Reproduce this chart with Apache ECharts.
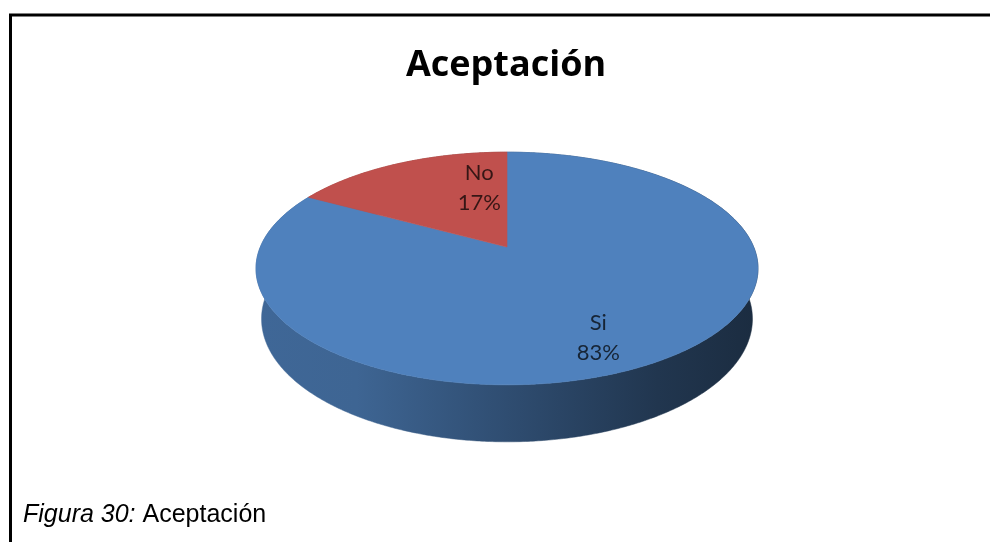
<!DOCTYPE html>
<html>
<head>
<meta charset="utf-8">
<script src="https://cdn.jsdelivr.net/npm/echarts@6/dist/echarts.min.js"></script>
<style>
  html, body { margin: 0; padding: 0; background: #ffffff; }
  #chart { width: 990px; height: 542px; }
</style>
</head>
<body>
<div id="chart"></div>
<script>
// Survey answers
const categories = ['Si', 'No'];
const values = [83, 17];
const sliceColors = ['#4F81BD', '#C0504D'];

const chartTitle = 'Aceptación';
const captionLead = 'Figura 30:';
const captionText = 'Aceptación';

// Perspective cylinder used for the 3D pie (pixels / radius units)
const pie = {
  cx: 507, cy: 247,          // screen position of the pie centre
  halfWidth: 251,            // widest half-extent of the top face
  tilt: 27.1 * Math.PI / 180,
  camDist: 4.82,             // camera distance in radius units
  depth: 0.231               // wall height in radius units
};
// small nudges applied to the inside labels
const labelShift = { Si: [8, 27], No: [41, -6] };

const sinT = Math.sin(pie.tilt), cosT = Math.cos(pie.tilt);
const zStar = -cosT / pie.camDist;
const maxSpread = Math.sqrt(1 - zStar * zStar) / (pie.camDist + cosT * zStar);
const focal = pie.halfWidth / maxSpread;

function project(x, y, z) {
  const v = z * sinT + y * cosT;
  const w = z * cosT - y * sinT;
  const f = focal / (pie.camDist + w);
  return [pie.cx + x * f, pie.cy - v * f];
}
// point on the rim, angle measured clockwise from the far side
function rim(angle, y, r) {
  return project(r * Math.sin(angle), y, r * Math.cos(angle));
}
function shade(hex, k) {
  const n = parseInt(hex.slice(1), 16);
  const r = (n >> 16) & 255, g = (n >> 8) & 255, b = n & 255;
  return 'rgb(' + Math.round(r * k) + ',' + Math.round(g * k) + ',' + Math.round(b * k) + ')';
}

const total = values.reduce((a, b) => a + b, 0);
const startAngles = [];
values.reduce((acc, v, i) => { startAngles[i] = acc; return acc + v; }, 0);

function renderSlice(params, api) {
  const i = params.dataIndex;
  const v = api.value(0);
  const name = categories[i];
  const color = sliceColors[i];
  const a0 = startAngles[i] / total * Math.PI * 2;
  const a1 = a0 + v / total * Math.PI * 2;
  const steps = Math.max(2, Math.ceil((a1 - a0) / (Math.PI / 360)));

  const topArc = [], bottomArc = [];
  for (let s = 0; s <= steps; s++) {
    const a = a0 + (a1 - a0) * s / steps;
    topArc.push(rim(a, 0, 1));
    bottomArc.push(rim(a, -pie.depth, 1));
  }
  const topFace = [project(0, 0, 0)].concat(topArc);
  const wall = topArc.concat(bottomArc.slice().reverse());

  const wallFill = {
    type: 'linear', global: true,
    x: pie.cx - pie.halfWidth, y: 0, x2: pie.cx + pie.halfWidth, y2: 0,
    colorStops: [
      { offset: 0, color: shade(color, 0.80) },
      { offset: 0.2, color: shade(color, 0.78) },
      { offset: 0.5, color: shade(color, 0.60) },
      { offset: 0.8, color: shade(color, 0.42) },
      { offset: 1, color: shade(color, 0.34) }
    ]
  };

  const mid = (a0 + a1) / 2;
  const anchor = rim(mid, 0, 0.6);
  const shift = labelShift[name] || [0, 0];
  const pct = Math.round(v / total * 100) + '%';

  return {
    type: 'group',
    children: [
      { type: 'polygon', z2: 1, shape: { points: wall },
        style: { fill: wallFill, stroke: wallFill, lineWidth: 0.5 } },
      { type: 'polygon', z2: 5, shape: { points: topFace },
        style: { fill: color, stroke: color, lineWidth: 0.6 } },
      { type: 'text', z2: 10, x: anchor[0] + shift[0], y: anchor[1] + shift[1],
        style: {
          text: name + '\n' + pct,
          fill: 'rgba(0,0,0,0.72)',
          font: '22px Lato',
          lineHeight: 30,
          align: 'center',
          verticalAlign: 'middle'
        } }
    ]
  };
}

const chart = echarts.init(document.getElementById('chart'), null, { renderer: 'canvas' });
chart.setOption({
  backgroundColor: '#ffffff',
  animation: false,
  graphic: [
    { type: 'polyline', silent: true,
      shape: { points: [[10.5, 542], [10.5, 15], [990, 15]] },
      style: { stroke: '#000000', lineWidth: 3, fill: null } },
    { type: 'text', x: 506, y: 66, silent: true,
      style: {
        text: chartTitle,
        font: 'bold 36px "Open Sans"',
        fill: '#000000',
        align: 'center',
        verticalAlign: 'middle'
      } },
    { type: 'text', x: 23, y: 515, silent: true,
      style: {
        text: '{i|' + captionLead + '}{s| }{r|' + captionText + '}',
        verticalAlign: 'middle',
        rich: {
          i: { fontFamily: 'Liberation Sans', fontStyle: 'italic', fontSize: 25, fill: '#000' },
          s: { fontFamily: 'Liberation Sans', fontSize: 25, fill: '#000' },
          r: { fontFamily: 'Liberation Sans', fontSize: 25, fill: '#000' }
        }
      } }
  ],
  series: [{
    type: 'custom',
    coordinateSystem: 'none',
    renderItem: renderSlice,
    data: values.map((v, i) => ({ name: categories[i], value: v }))
  }]
});
</script>
</body>
</html>
